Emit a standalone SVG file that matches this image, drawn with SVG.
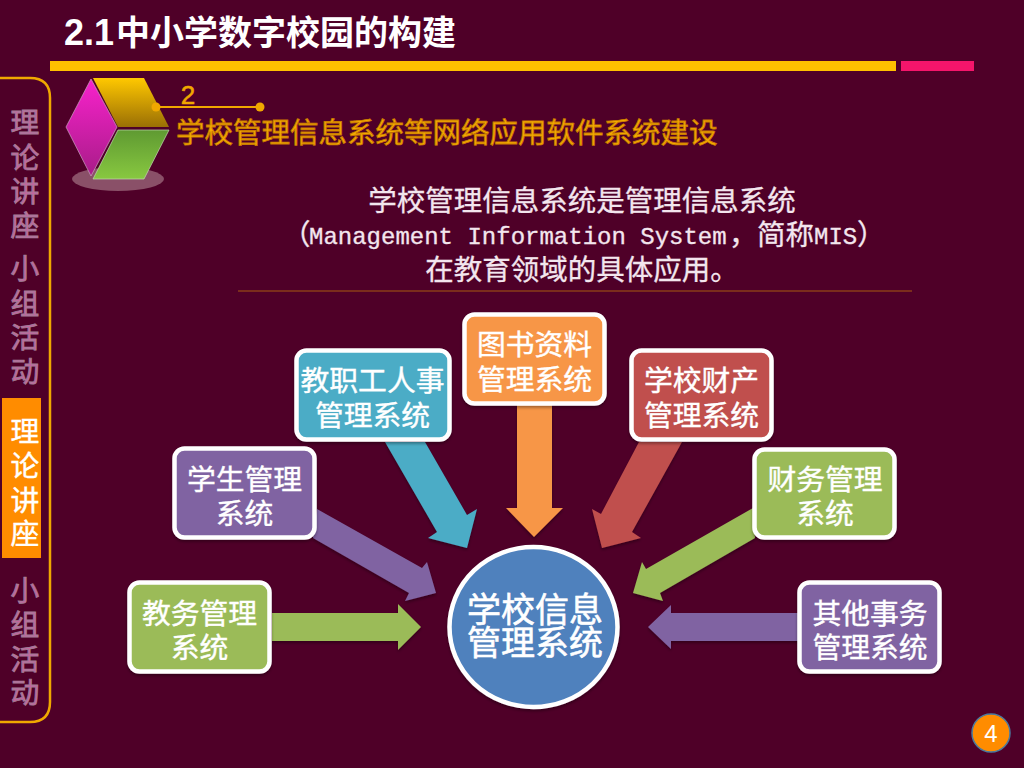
<svg xmlns="http://www.w3.org/2000/svg" width="1024" height="768" viewBox="0 0 1024 768">
<style>
text{font-family:"Noto Sans CJK SC","Liberation Sans",sans-serif}
.bx{stroke:#fff;stroke-width:4.5;filter:url(#sh)}
.t{fill:#fff;stroke:#fff;stroke-width:.4;font-size:28.8px;text-anchor:middle}
.s{font-size:28.8px;text-anchor:middle;fill:#c4659f;stroke:#a08098;stroke-width:.8}
.m{fill:#f3e6ee;stroke:#f3e6ee;stroke-width:.3;font-size:28.5px}
.l{fill:#f3e6ee;stroke:#f3e6ee;stroke-width:.3;font-size:24px;font-family:"Liberation Mono",monospace}
.c{fill:#fff;stroke:#fff;stroke-width:.6;font-size:34px;text-anchor:middle}
.a{filter:url(#sh)}
.grn{fill:#9bbb59}.pur{fill:#8064a2}.tea{fill:#4bacc6}.org{fill:#f79646}.red{fill:#c0504d}
</style>
<defs>
<filter id="sh" x="-10%" y="-10%" width="120%" height="125%"><feDropShadow dx="0" dy="2" stdDeviation="1.5" flood-color="#000" flood-opacity=".35"/></filter>
<linearGradient id="gg" x1="0" y1="0" x2="0" y2="1"><stop offset="0" stop-color="#ffc800"/><stop offset="1" stop-color="#9a6f05"/></linearGradient>
<linearGradient id="gp" x1="0" y1="0" x2="0" y2="1"><stop offset="0" stop-color="#f822cc"/><stop offset="1" stop-color="#a81c88"/></linearGradient>
<linearGradient id="gv" x1="0" y1="0" x2="0" y2="1"><stop offset="0" stop-color="#5f9a32"/><stop offset="1" stop-color="#88c840"/></linearGradient>
</defs>
<rect width="1024" height="768" fill="#4f0028"/>
<g id="header">
<text x="64" y="45" font-size="34" font-weight="700" fill="#fff" style="font-family:'Liberation Sans','Noto Sans CJK SC',sans-serif"><tspan font-size="36">2.1</tspan><tspan x="116">中小学数字校园的构建</tspan></text>
<rect x="50" y="61" width="846" height="10" fill="#ffc000"/>
<rect x="901" y="61" width="73" height="10" fill="#f5156b"/>
</g>
<g id="sidebar">
<path d="M0 78H30Q50 78 50 98V702Q50 722 30 722H0" fill="none" stroke="#f0a800" stroke-width="2.500"/>
<rect x="2" y="398" width="39" height="160" fill="#ff8c00"/>
<text class="s" x="25" y="133">理</text><text class="s" x="25" y="168">论</text><text class="s" x="25" y="202">讲</text><text class="s" x="25" y="236">座</text>
<text class="s" x="25" y="279">小</text><text class="s" x="25" y="314">组</text><text class="s" x="25" y="348">活</text><text class="s" x="25" y="382">动</text>
<text class="t" x="25" y="442">理</text><text class="t" x="25" y="476">论</text><text class="t" x="25" y="511">讲</text><text class="t" x="25" y="544">座</text>
<text class="s" x="25" y="601">小</text><text class="s" x="25" y="635">组</text><text class="s" x="25" y="670">活</text><text class="s" x="25" y="703">动</text>
</g>
<g id="cube">
<ellipse cx="118" cy="179" rx="46" ry="12" fill="#8a5068"/>
<polygon points="91,79 117,127 91,176 66,127" fill="url(#gp)" stroke="#c9a0c0" stroke-width=".7"/>
<polygon points="93,78 144,78 169,127 118,127" fill="url(#gg)"/>
<polygon points="118,130 169,130 144,179 93,179" fill="url(#gv)" stroke="#c0d8b0" stroke-width=".7"/>
<line x1="156" y1="107" x2="260" y2="107" stroke="#f0a800" stroke-width="2"/>
<circle cx="156" cy="107" r="4.500" fill="#f0a800"/><circle cx="260" cy="107" r="4.500" fill="#f0a800"/>
<text x="188" y="104" font-size="26" text-anchor="middle" fill="#f0a800" stroke="#f0a800" stroke-width=".5" style="font-family:'Liberation Sans',sans-serif">2</text>
</g>
<g id="subtitle">
<text x="176" y="143" font-size="28.500" fill="#f5ac00" stroke="#c87800" stroke-width=".8">学校管理信息系统等网络应用软件系统建设</text>
</g>
<g id="intro">
<text class="m" x="582" y="211" text-anchor="middle">学校管理信息系统是管理信息系统</text>
<text class="m" x="282" y="245">（</text>
<text class="l" x="309" y="244">Management Information System</text>
<text class="m" x="729" y="245">，</text>
<text class="m" x="757" y="245">简称</text>
<text class="l" x="814" y="244">MIS</text>
<text class="m" x="857" y="245">）</text>
<text class="m" x="582" y="280" text-anchor="middle">在教育领域的具体应用。</text>
<line x1="238" y1="291" x2="912" y2="291" stroke="#a85a10" stroke-width="1.200"/>
</g>
<g id="connectors">
<polygon class="a grn" points="272,613 398,613 398,604 421,627 398,650 398,641 272,641"/>
<polygon class="a pur" points="317,509 422,568 427,562 436,593 405,601 409,593 313,538"/>
<polygon class="a tea" points="385,442 425,442 467,515 477,509 467,548 428,538 437,532"/>
<polygon class="a org" points="517,405 552,405 552,508 563,508 534,537 506,508 517,508"/>
<polygon class="a red" points="639,442 682,442 632,532 641,538 602,548 592,509 601,514"/>
<polygon class="a grn" points="753,508 755,538 660,593 663,601 633,593 642,562 646,569"/>
<polygon class="a pur" points="800,613 671,613 671,605 648,627 671,649 671,641 800,641"/>
</g>
<g id="n1"><rect class="bx grn" x="129.500" y="582.500" width="140" height="89" rx="10"/><text class="t" x="199.500" y="624">教务管理</text><text class="t" x="199.500" y="658">系统</text></g>
<g id="n2"><rect class="bx pur" x="174.500" y="448.500" width="140" height="89" rx="10"/><text class="t" x="244.500" y="490">学生管理</text><text class="t" x="244.500" y="524">系统</text></g>
<g id="n3"><rect class="bx tea" x="296.500" y="350.500" width="153" height="89" rx="10"/><text class="t" x="372.500" y="391">教职工人事</text><text class="t" x="372.500" y="426">管理系统</text></g>
<g id="n4"><rect class="bx org" x="464.500" y="314.500" width="140" height="89" rx="10"/><text class="t" x="534.500" y="355">图书资料</text><text class="t" x="534.500" y="390">管理系统</text></g>
<g id="n5"><rect class="bx red" x="631.500" y="350.500" width="140" height="89" rx="10"/><text class="t" x="701.500" y="391">学校财产</text><text class="t" x="701.500" y="426">管理系统</text></g>
<g id="n6"><rect class="bx grn" x="754.500" y="449.500" width="140" height="88" rx="10"/><text class="t" x="825" y="490">财务管理</text><text class="t" x="825" y="524">系统</text></g>
<g id="n7"><rect class="bx pur" x="799.500" y="582.500" width="140" height="89" rx="10"/><text class="t" x="870" y="624">其他事务</text><text class="t" x="870" y="658">管理系统</text></g>
<g id="center"><ellipse cx="533.500" cy="627" rx="84" ry="80" fill="#4f81bd" stroke="#fff" stroke-width="4.500" filter="url(#sh)"/>
<text class="c" x="535" y="622">学校信息</text><text class="c" x="535" y="655">管理系统</text></g>
<g id="page"><circle cx="991" cy="733" r="19" fill="#ff8c00" stroke="#4a7a9f" stroke-width="1.500"/><text x="991" y="742" font-size="24" fill="#fff" text-anchor="middle" style="font-family:'Liberation Sans',sans-serif">4</text></g>
</svg>
